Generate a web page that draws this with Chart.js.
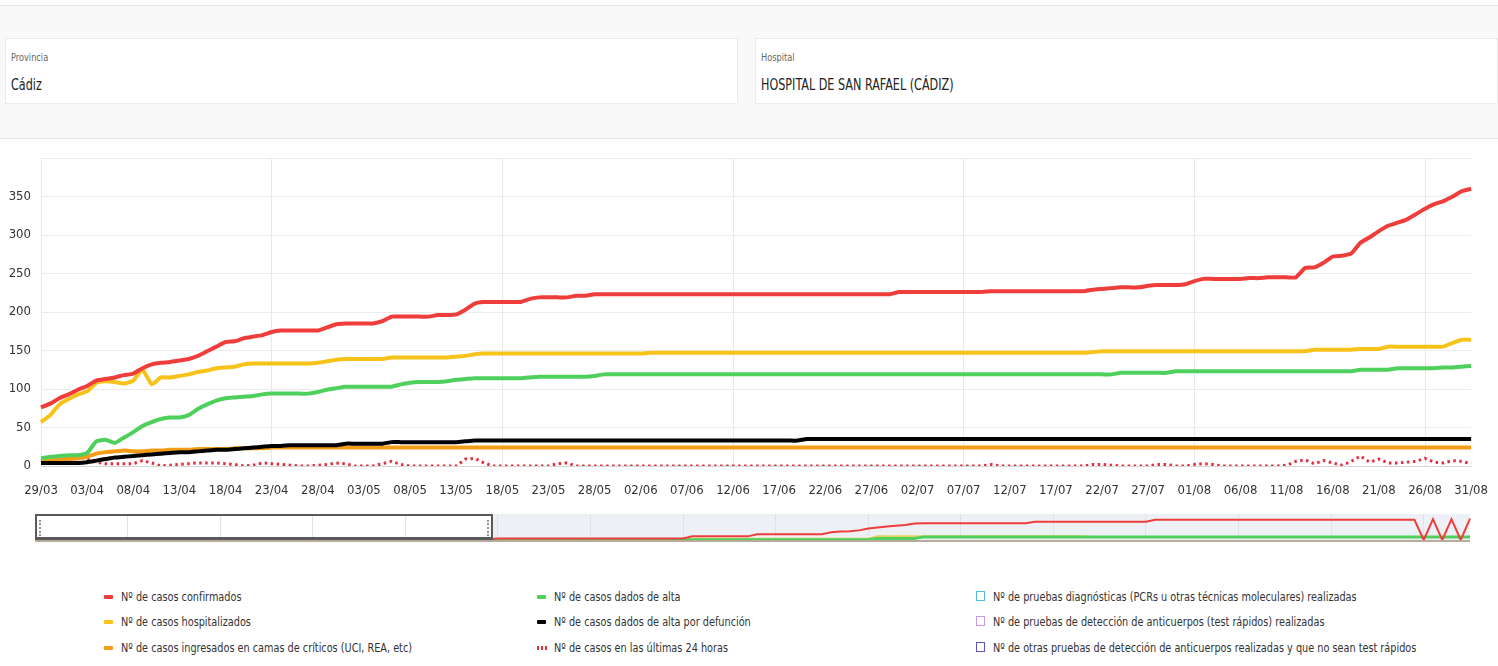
<!DOCTYPE html>
<html lang="es">
<head>
<meta charset="utf-8">
<title>Hospital de San Rafael (Cádiz)</title>
<script src="https://cdn.jsdelivr.net/npm/chart.js@4.4.1/dist/chart.umd.min.js"></script>
<style>
  html, body { margin: 0; padding: 0; background: #fff; }
  body {
    width: 1498px; height: 666px; position: relative; overflow: hidden;
    font-family: 'DejaVu Sans Condensed', 'DejaVu Sans', sans-serif;
    color: #333;
  }
  .filters {
    position: absolute; left: 0; top: 5px; width: 1498px; height: 132px;
    background: #f9f9f9; border-top: 1px solid #e4e4e4; border-bottom: 1px solid #e4e4e4;
  }
  .panel {
    position: absolute; top: 32px; height: 66px; background: #fff;
    border: 1px solid #ebebeb; box-sizing: border-box;
  }
  .narrow { display: inline-block; transform: scaleX(0.83); transform-origin: 0 50%; white-space: nowrap; }
  .panel .lbl { position: absolute; left: 5px; top: 12px; font-size: 11px; color: #666; }
  .panel .val { position: absolute; left: 5px; top: 37px; font-size: 15px; color: #222; }
  #chartBox { position: absolute; left: 0; top: 140px; width: 1505px; height: 368px; }
  .nav-bg {
    position: absolute; left: 35px; top: 514px; width: 1435px; height: 26px;
    background: #edf1f6; border-bottom: 2px solid #b7ab9c;
  }
  .nav-sel-fill { position: absolute; left: 35px; top: 514px; width: 458px; height: 26px; background: #fff; }
  #navBox { position: absolute; left: 0; top: 512px; width: 1498px; height: 31px; }
  .nav-sel {
    position: absolute; left: 35px; top: 514px; width: 458px; height: 26px;
    border: 2px solid #5a5a5a; box-sizing: border-box; border-bottom-width: 3px;
  }
  .grip { position: absolute; top: 4px; width: 0; height: 16px; border-left: 2px dotted #999; }
  .legend { position: absolute; font-size: 13px; color: #333; }
  .legend .item { position: absolute; white-space: nowrap; height: 16px; line-height: 16px; }
  .legend .mk { position: absolute; left: 0; top: 6px; width: 9px; height: 4px; border-radius: 1px; }
  .legend .dots { position: absolute; left: 0; top: 6px; width: 10px; height: 4px;
    background: repeating-linear-gradient(90deg, #e0303f 0 2px, transparent 2px 4px); }
  .legend .sq { position: absolute; left: 0; top: 2px; width: 9px; height: 10px; border: 1.5px solid; box-sizing: border-box; }
  .legend .tx { position: absolute; left: 17px; top: 0; }
</style>
</head>
<body>
<div class="filters">
  <div class="panel" style="left:5px;width:733px;">
    <div class="lbl"><span class="narrow">Provincia</span></div>
    <div class="val"><span class="narrow">Cádiz</span></div>
  </div>
  <div class="panel" style="left:755px;width:743px;">
    <div class="lbl"><span class="narrow">Hospital</span></div>
    <div class="val"><span class="narrow">HOSPITAL DE SAN RAFAEL (CÁDIZ)</span></div>
  </div>
</div>

<div id="chartBox"><canvas id="mainChart"></canvas></div>

<div class="nav-bg"></div>
<div class="nav-sel-fill"></div>
<div id="navBox"><canvas id="navChart"></canvas></div>
<div class="nav-sel"><div class="grip" style="left:2px"></div><div class="grip" style="right:2px"></div></div>

<div class="legend" id="legend"></div>

<script>
// fechas (29/03 - 31/08)
const startDay = new Date(2020, 2, 29);
const dateLabels = [];
for (let i = 0; i < 156; i++) {
  const d = new Date(startDay.getFullYear(), startDay.getMonth(), startDay.getDate() + i);
  dateLabels.push(String(d.getDate()).padStart(2, '0') + '/' + String(d.getMonth() + 1).padStart(2, '0'));
}

// series del gráfico principal
const confirmados = [
  76, 81, 88, 93, 99, 104, 111, 113, 115, 118,
  120, 127, 132, 134, 135, 137, 139, 143, 149, 155,
  161, 162, 166, 168, 170, 174, 176, 176, 176, 176,
  176, 180, 184, 185, 185, 185, 185, 188, 194, 194,
  194, 194, 194, 196, 196, 197, 203, 211, 213, 213,
  213, 213, 213, 217, 219, 219, 219, 219, 221, 221,
  223, 223, 223, 223, 223, 223, 223, 223, 223, 223,
  223, 223, 223, 223, 223, 223, 223, 223, 223, 223,
  223, 223, 223, 223, 223, 223, 223, 223, 223, 223,
  223, 223, 223, 226, 226, 226, 226, 226, 226, 226,
  226, 226, 226, 227, 227, 227, 227, 227, 227, 227,
  227, 227, 227, 227, 229, 230, 231, 232, 232, 232,
  234, 235, 235, 235, 236, 240, 243, 243, 243, 243,
  243, 244, 244, 245, 245, 245, 245, 257, 258, 264,
  272, 273, 276, 290, 297, 305, 312, 316, 320, 327,
  334, 340, 344, 350, 357, 360
];
const hospitalizados = [
  57, 66, 80, 87, 93, 97, 108, 110, 109, 107,
  111, 125, 106, 115, 115, 117, 119, 122, 124, 127,
  128, 129, 132, 133, 133, 133, 133, 133, 133, 133,
  134, 136, 138, 139, 139, 139, 139, 139, 141, 141,
  141, 141, 141, 141, 141, 142, 143, 145, 146, 146,
  146, 146, 146, 146, 146, 146, 146, 146, 146, 146,
  146, 146, 146, 146, 146, 146, 147, 147, 147, 147,
  147, 147, 147, 147, 147, 147, 147, 147, 147, 147,
  147, 147, 147, 147, 147, 147, 147, 147, 147, 147,
  147, 147, 147, 147, 147, 147, 147, 147, 147, 147,
  147, 147, 147, 147, 147, 147, 147, 147, 147, 147,
  147, 147, 147, 147, 148, 149, 149, 149, 149, 149,
  149, 149, 149, 149, 149, 149, 149, 149, 149, 149,
  149, 149, 149, 149, 149, 149, 149, 149, 151, 151,
  151, 151, 151, 152, 152, 152, 155, 155, 155, 155,
  155, 155, 155, 160, 164, 164
];
const criticos = [
  6, 7, 8, 9, 10, 12, 16, 18, 19, 20,
  19, 19, 20, 20, 21, 21, 21, 22, 22, 22,
  22, 23, 23, 23, 23, 24, 24, 24, 24, 24,
  24, 24, 24, 24, 24, 24, 24, 24, 24, 24,
  24, 24, 24, 24, 24, 24, 24, 24, 24, 24,
  24, 24, 24, 24, 24, 24, 24, 24, 24, 24,
  24, 24, 24, 24, 24, 24, 24, 24, 24, 24,
  24, 24, 24, 24, 24, 24, 24, 24, 24, 24,
  24, 24, 24, 24, 24, 24, 24, 24, 24, 24,
  24, 24, 24, 24, 24, 24, 24, 24, 24, 24,
  24, 24, 24, 24, 24, 24, 24, 24, 24, 24,
  24, 24, 24, 24, 24, 24, 24, 24, 24, 24,
  24, 24, 24, 24, 24, 24, 24, 24, 24, 24,
  24, 24, 24, 24, 24, 24, 24, 24, 24, 24,
  24, 24, 24, 24, 24, 24, 24, 24, 24, 24,
  24, 24, 24, 24, 24, 24
];
const altas = [
  10, 12, 13, 14, 14, 17, 32, 34, 30, 37,
  44, 52, 57, 61, 63, 63, 66, 74, 80, 85,
  88, 89, 90, 91, 93, 94, 94, 94, 94, 94,
  96, 99, 101, 103, 103, 103, 103, 103, 103, 106,
  108, 109, 109, 109, 110, 112, 113, 114, 114, 114,
  114, 114, 114, 115, 116, 116, 116, 116, 116, 116,
  117, 119, 119, 119, 119, 119, 119, 119, 119, 119,
  119, 119, 119, 119, 119, 119, 119, 119, 119, 119,
  119, 119, 119, 119, 119, 119, 119, 119, 119, 119,
  119, 119, 119, 119, 119, 119, 119, 119, 119, 119,
  119, 119, 119, 119, 119, 119, 119, 119, 119, 119,
  119, 119, 119, 119, 119, 119, 119, 121, 121, 121,
  121, 121, 121, 123, 123, 123, 123, 123, 123, 123,
  123, 123, 123, 123, 123, 123, 123, 123, 123, 123,
  123, 123, 123, 125, 125, 125, 125, 127, 127, 127,
  127, 127, 128, 128, 129, 130
];
const defunciones = [
  4, 4, 4, 4, 4, 5, 7, 9, 11, 12,
  13, 14, 15, 16, 17, 18, 18, 19, 20, 21,
  21, 22, 23, 24, 25, 26, 26, 27, 27, 27,
  27, 27, 27, 29, 29, 29, 29, 29, 31, 31,
  31, 31, 31, 31, 31, 31, 32, 33, 33, 33,
  33, 33, 33, 33, 33, 33, 33, 33, 33, 33,
  33, 33, 33, 33, 33, 33, 33, 33, 33, 33,
  33, 33, 33, 33, 33, 33, 33, 33, 33, 33,
  33, 33, 33, 35, 35, 35, 35, 35, 35, 35,
  35, 35, 35, 35, 35, 35, 35, 35, 35, 35,
  35, 35, 35, 35, 35, 35, 35, 35, 35, 35,
  35, 35, 35, 35, 35, 35, 35, 35, 35, 35,
  35, 35, 35, 35, 35, 35, 35, 35, 35, 35,
  35, 35, 35, 35, 35, 35, 35, 35, 35, 35,
  35, 35, 35, 35, 35, 35, 35, 35, 35, 35,
  35, 35, 35, 35, 35, 35
];
const ultimas24h = [
  8, 6, 12, 10, 12, 9, 5, 3, 3, 3,
  3, 7, 4, 0, 1, 2, 3, 4, 4, 4,
  3, 2, 0, 1, 4, 3, 2, 1, 0, 0,
  1, 2, 4, 3, 0, 0, 0, 3, 6, 2,
  0, 0, 0, 0, 0, 0, 9, 10, 4, 0,
  0, 0, 0, 0, 0, 0, 3, 4, 0, 0,
  0, 0, 0, 0, 0, 0, 0, 0, 0, 0,
  0, 0, 0, 0, 0, 0, 0, 0, 0, 0,
  0, 0, 0, 0, 0, 0, 0, 0, 0, 0,
  0, 0, 0, 0, 0, 0, 0, 0, 0, 0,
  0, 0, 0, 2, 0, 0, 0, 0, 0, 0,
  0, 0, 0, 0, 2, 2, 1, 0, 0, 0,
  0, 2, 2, 0, 0, 2, 3, 2, 0, 0,
  0, 0, 0, 0, 0, 1, 6, 8, 3, 7,
  4, 1, 6, 13, 5, 9, 4, 4, 5, 6,
  10, 5, 4, 7, 6, 3
];

// series del navegador inferior (escala propia 0-100)
const navConfirmados = [
  2, 2, 2, 2, 2, 2, 2, 2, 2, 2,
  2, 2, 2, 2, 2, 2, 2, 2, 2, 2,
  2, 2, 2, 2, 2, 2, 2, 2, 2, 2,
  4, 4, 4, 4, 4, 4, 4, 4, 4, 4,
  4, 4, 4, 4, 4, 4, 4, 4, 4, 4,
  6, 6, 6, 6, 6, 6, 6, 6, 6, 6,
  6, 6, 6, 6, 6, 6, 6, 6, 6, 6,
  6, 14, 14, 14, 14, 14, 14, 14, 22, 22,
  22, 22, 22, 22, 22, 22, 30, 33, 34, 37,
  44, 48, 52, 55, 58, 63, 64, 64, 64, 64,
  64, 64, 64, 64, 64, 64, 64, 64, 70, 70,
  70, 70, 70, 70, 70, 70, 70, 70, 70, 70,
  70, 78, 78, 78, 78, 78, 78, 78, 78, 78,
  78, 78, 78, 78, 78, 78, 78, 78, 78, 78,
  78, 78, 78, 78, 78, 78, 78, 78, 78, 78,
  0, 80, 0, 80, 0, 82
];
const navHospitalizados = [
  1, 1, 1, 1, 1, 1, 1, 1, 1, 1,
  1, 1, 1, 1, 1, 1, 1, 1, 1, 1,
  1, 1, 1, 1, 1, 1, 1, 1, 1, 1,
  1, 1, 1, 1, 1, 1, 1, 1, 1, 1,
  1, 1, 1, 1, 1, 1, 1, 1, 1, 1,
  1, 1, 1, 1, 1, 1, 1, 1, 1, 1,
  1, 1, 1, 1, 1, 1, 1, 1, 1, 1,
  1, 5, 5, 5, 5, 5, 5, 5, 5, 5,
  5, 5, 5, 5, 5, 5, 5, 5, 5, 5,
  5, 14, 14, 14, 14, 14, 14, 14, 14, 14,
  14, 14, 14, 14, 14, 14, 14, 14, 14, 14,
  14, 14, 14, 14, 12, 12, 12, 12, 12, 12,
  12, 12, 12, 12, 12, 12, 12, 12, 12, 12,
  12, 12, 12, 12, 12, 12, 12, 12, 12, 12,
  12, 12, 12, 12, 12, 12, 12, 12, 12, 12,
  12, 12, 12, 12, 12, 12
];
const navAltas = [
  1, 1, 1, 1, 1, 1, 1, 1, 1, 1,
  1, 1, 1, 1, 1, 1, 1, 1, 1, 1,
  1, 1, 1, 1, 1, 1, 1, 1, 1, 1,
  1, 1, 1, 1, 1, 1, 1, 1, 1, 1,
  1, 1, 1, 1, 1, 1, 1, 1, 1, 1,
  1, 1, 1, 1, 1, 1, 1, 1, 1, 1,
  1, 1, 1, 1, 1, 1, 1, 1, 1, 1,
  1, 1, 1, 1, 1, 1, 1, 1, 1, 1,
  1, 1, 1, 1, 1, 1, 1, 1, 1, 1,
  1, 6, 6, 6, 6, 6, 12, 12, 12, 12,
  12, 12, 12, 12, 12, 12, 12, 12, 12, 12,
  12, 12, 12, 12, 12, 12, 12, 12, 12, 12,
  12, 12, 12, 12, 12, 12, 12, 12, 12, 12,
  12, 12, 12, 12, 12, 12, 12, 12, 12, 12,
  12, 12, 12, 12, 12, 12, 12, 12, 12, 12,
  12, 12, 12, 12, 12, 12
];

const FONT = "'DejaVu Sans Condensed', 'DejaVu Sans', sans-serif";
Chart.defaults.font.family = FONT;
Chart.defaults.color = '#333';

const COLORS = {
  confirmados: '#ee3d3a',
  hospitalizados: '#f7c21a',
  criticos: '#f49b17',
  altas: '#4fd05c',
  defunciones: '#000000',
  ultimas: '#e0303f'
};

function lineSet(label, data, color, extra) {
  return Object.assign({
    label: label,
    data: data,
    borderColor: color,
    backgroundColor: color,
    borderWidth: 4,
    pointRadius: 0,
    pointHoverRadius: 0,
    fill: false,
    tension: 0.15
  }, extra || {});
}

const mainChart = new Chart(document.getElementById('mainChart'), {
  type: 'line',
  data: {
    labels: dateLabels,
    datasets: [
      lineSet('Nº de casos confirmados', confirmados, COLORS.confirmados),
      lineSet('Nº de casos hospitalizados', hospitalizados, COLORS.hospitalizados),
      lineSet('Nº de casos dados de alta', altas, COLORS.altas),
      lineSet('Nº de casos dados de alta por defunción', defunciones, COLORS.defunciones),
      lineSet('Nº de casos ingresados en camas de críticos (UCI, REA, etc)', criticos, COLORS.criticos),
      lineSet('Nº de casos en las últimas 24 horas', ultimas24h, COLORS.ultimas, { borderWidth: 3, borderDash: [2.5, 3.5], tension: 0 })
    ]
  },
  options: {
    responsive: true,
    maintainAspectRatio: false,
    animation: false,
    layout: { padding: { top: 18, right: 21, left: 0, bottom: 0 } },
    plugins: { legend: { display: false }, tooltip: { enabled: false } },
    scales: {
      x: {
        type: 'category',
        grid: {
          drawTicks: false,
          color: (ctx) => (ctx.index % 5 === 0 ? '#e8e8e8' : 'rgba(0,0,0,0)')
        },
        border: { display: true, color: '#d6d6d6' },
        ticks: {
          autoSkip: false,
          maxRotation: 0,
          padding: 17,
          font: { size: 13, family: FONT },
          color: '#333',
          callback: (v, i) => (i % 5 === 0 ? dateLabels[i] : null)
        },
        afterFit: (s) => { s.height = 42; }
      },
      y: {
        min: 0,
        max: 400,
        grid: { drawTicks: false, color: '#ebebeb' },
        border: { display: false },
        ticks: {
          stepSize: 50,
          padding: 10,
          font: { size: 13, family: FONT },
          color: '#333',
          callback: (v) => (v === 400 ? '' : v)
        },
        afterFit: (s) => { s.width = 41; }
      }
    }
  }
});

// navegador (scrollbar)
const navChart = new Chart(document.getElementById('navChart'), {
  type: 'line',
  data: {
    labels: dateLabels,
    datasets: [
      lineSet('nav confirmados', navConfirmados, COLORS.confirmados, { borderWidth: 2, tension: 0 }),
      lineSet('nav altas', navAltas, COLORS.altas, { borderWidth: 3, tension: 0 }),
      lineSet('nav hospitalizados', navHospitalizados, '#e6cf5a', { borderWidth: 2, tension: 0 })
    ]
  },
  options: {
    responsive: true,
    maintainAspectRatio: false,
    animation: false,
    layout: { padding: { top: 2, right: 28, left: 35, bottom: 3 } },
    plugins: { legend: { display: false }, tooltip: { enabled: false } },
    scales: {
      x: {
        display: true,
        ticks: { display: false },
        grid: {
          drawTicks: false,
          color: (ctx) => (ctx.index % 10 === 0 && ctx.index > 0 ? '#dde3ea' : 'rgba(0,0,0,0)')
        },
        border: { display: false },
        afterFit: (s) => { s.height = 0; }
      },
      y: { display: false, min: 0, max: 100 }
    }
  }
});

// leyenda en tres columnas
const legendItems = [
  { x: 104, y: 589, kind: 'line', color: COLORS.confirmados, text: 'Nº de casos confirmados' },
  { x: 104, y: 614, kind: 'line', color: COLORS.hospitalizados, text: 'Nº de casos hospitalizados' },
  { x: 104, y: 640, kind: 'line', color: COLORS.criticos, text: 'Nº de casos ingresados en camas de críticos (UCI, REA, etc)' },
  { x: 537, y: 589, kind: 'line', color: COLORS.altas, text: 'Nº de casos dados de alta' },
  { x: 537, y: 614, kind: 'line', color: COLORS.defunciones, text: 'Nº de casos dados de alta por defunción' },
  { x: 537, y: 640, kind: 'dots', color: COLORS.ultimas, text: 'Nº de casos en las últimas 24 horas' },
  { x: 976, y: 589, kind: 'box', color: '#4cbfd6', text: 'Nº de pruebas diagnósticas (PCRs u otras técnicas moleculares) realizadas' },
  { x: 976, y: 614, kind: 'box', color: '#c49ae4', text: 'Nº de pruebas de detección de anticuerpos (test rápidos) realizadas' },
  { x: 976, y: 640, kind: 'box', color: '#5e55c8', text: 'Nº de otras pruebas de detección de anticuerpos realizadas y que no sean test rápidos' }
];

const legendEl = document.getElementById('legend');
legendItems.forEach(item => {
  let marker = '';
  if (item.kind === 'line') marker = `<span class="mk" style="background:${item.color}"></span>`;
  else if (item.kind === 'dots') marker = `<span class="dots"></span>`;
  else marker = `<span class="sq" style="border-color:${item.color}"></span>`;
  legendEl.innerHTML += `<div class="item" style="left:${item.x}px;top:${item.y}px">${marker}<span class="tx"><span class="narrow">${item.text}</span></span></div>`;
});
</script>
</body>
</html>
